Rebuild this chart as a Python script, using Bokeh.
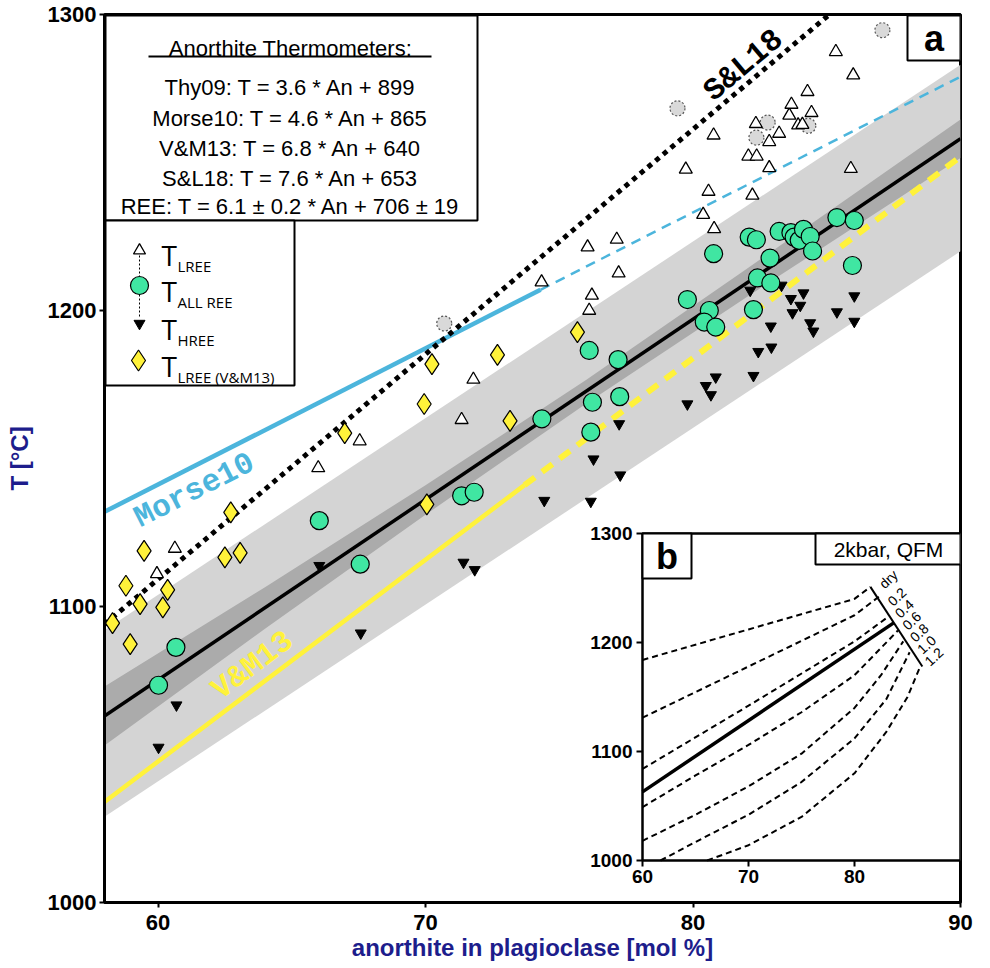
import math
from bokeh.plotting import figure
from bokeh.models import Range1d, FixedTicker
from bokeh.core.properties import value
from bokeh.embed import file_html
from bokeh.resources import INLINE

# ---------------- data ----------------
x_ticks = [60, 70, 80, 90]
y_ticks = [1000, 1100, 1200, 1300]

# T_LREE (open triangles)
lree_an = [59.96, 60.63, 65.99, 67.54, 71.35, 71.79, 74.34, 76.06, 77.15, 77.22, 76.22, 76.12,
           79.73, 80.58, 80.38, 80.79, 80.77, 82.22, 82.85, 82.07, 82.38, 82.35, 82.85, 83.22,
           83.60, 83.68, 84.28, 84.43, 83.93, 84.09, 85.34, 85.99, 85.90]
lree_t = [1111.0, 1119.6, 1146.8, 1155.9, 1163.1, 1176.7, 1209.6, 1221.4, 1224.0, 1212.6, 1205.1, 1200.0,
          1247.7, 1240.2, 1232.4, 1227.6, 1259.2, 1238.9, 1248.2, 1252.1, 1252.1, 1263.1, 1257.0, 1259.8,
          1265.9, 1269.6, 1273.9, 1266.8, 1262.6, 1262.8, 1287.4, 1279.5, 1247.9]
# excluded (grey dotted circles)
excl_an = [70.70, 79.42, 82.79, 82.37, 84.31, 87.08]
excl_t = [1195.6, 1268.3, 1263.5, 1258.4, 1262.4, 1294.7]
# T_ALL REE (green circles)
all_an = [60.02, 60.67, 66.03, 67.56, 71.35, 71.82, 74.35, 76.12, 77.20, 76.24, 77.26, 76.18,
          79.79, 80.61, 80.42, 80.85, 80.77, 82.10, 82.37, 83.22, 83.66, 83.78, 83.97, 84.13,
          84.38, 84.47, 85.38, 86.03, 85.96, 82.88, 82.41, 82.91, 82.26]
all_t = [1073.4, 1086.2, 1129.0, 1114.3, 1137.4, 1138.6, 1163.4, 1186.5, 1183.4, 1169.0, 1170.9, 1158.9,
         1203.7, 1200.0, 1196.1, 1194.4, 1219.2, 1224.8, 1223.9, 1226.7, 1226.3, 1224.8, 1223.7, 1227.4,
         1225.0, 1220.1, 1231.4, 1230.4, 1215.2, 1217.7, 1211.0, 1209.3, 1200.3]
# T_HREE (black inverted triangles)
hree_an = [60.02, 60.69, 66.03, 67.58, 71.42, 71.84, 74.44, 76.28, 77.24, 77.28, 76.18, 79.79,
           80.48, 80.67, 80.85, 82.26, 82.44, 82.93, 82.14, 83.31, 83.66, 84.13, 84.01, 83.72,
           84.38, 84.50, 82.91, 85.38, 86.03, 86.03]
hree_t = [1052.4, 1066.7, 1113.8, 1091.0, 1114.9, 1112.4, 1135.8, 1149.8, 1161.7, 1144.4, 1135.5, 1168.4,
          1174.6, 1171.5, 1177.5, 1178.0, 1186.1, 1187.6, 1206.8, 1208.5, 1204.0, 1205.9, 1201.7, 1199.2,
          1195.8, 1193.0, 1194.7, 1199.5, 1204.9, 1196.3]
# T_LREE (V&M13) (yellow diamonds)
vm_an = [58.30, 58.80, 58.96, 59.33, 59.48, 60.18, 60.36, 62.50, 62.72, 63.07, 66.98, 69.95,
         70.05, 70.24, 72.69, 73.16, 75.68]
vm_t = [1094.4, 1107.0, 1087.3, 1100.8, 1118.8, 1099.7, 1105.6, 1116.6, 1131.8, 1118.1, 1158.6, 1168.4,
        1134.5, 1181.9, 1185.0, 1162.7, 1192.7]

# REE fit and uncertainty envelopes
band_an = [58, 90]
light_lo = [1029, 1220]
light_hi = [1092, 1283]
dark_an = [58, 64, 70, 76, 82, 90]
dark_lo = [1053, 1092.5, 1131, 1168.5, 1204.5, 1251.5]
dark_hi = [1073, 1106.5, 1141, 1176.5, 1214, 1264.5]
ree_an = [58, 90]
ree_t = [1063, 1258]

# thermometer lines
morse_an_solid, morse_t_solid = [58, 74.3], [1132, 1207]
morse_an_dash, morse_t_dash = [74.3, 90], [1207, 1279]
vm13_an_solid, vm13_t_solid = [58, 73.7], [1034, 1141]
vm13_an_dash, vm13_t_dash = [73.7, 90], [1141, 1252]
sl18_an, sl18_t = [58, 85.1], [1094, 1300]

thermo_title = "Anorthite Thermometers:"
thermo_lines = ["Thy09: T = 3.6 * An + 899",
                "Morse10: T = 4.6 * An + 865",
                "V&M13: T = 6.8 * An + 640",
                "S&L18: T = 7.6 * An + 653",
                "REE: T = 6.1 \u00b1 0.2 * An + 706 \u00b1 19"]
legend_sub = ["LREE", "ALL REE", "HREE", "LREE (V&M13)"]

# inset (b): dashed curves for dry, 0.2 ... 1.2 wt% H2O
in_x_ticks = [60, 70, 80]
in_y_ticks = [1000, 1100, 1200, 1300]
in_curves_an = [
    [60, 70, 80, 81.5],
    [60, 70, 80, 82.3],
    [60, 70, 80, 83.1],
    [60, 65, 70, 75, 80, 84.1],
    [60, 65, 70, 75, 80, 82.5, 84.6],
    [61.7, 65, 70, 75, 80, 83, 85.2],
    [66.1, 70, 75, 80, 83, 85, 86.2],
]
in_curves_t = [
    [1184, 1212, 1240, 1251],
    [1131, 1178, 1225, 1242],
    [1084, 1142, 1201, 1223],
    [1049, 1078, 1106, 1136, 1170, 1211],
    [1018, 1042, 1068, 1098, 1140, 1170, 1201],
    [1000, 1017, 1042, 1072, 1112, 1148, 1191],
    [1000, 1014, 1040, 1080, 1118, 1150, 1178],
]
in_solid_an, in_solid_t = [60, 83.7], [1063, 1218]
in_tick_an, in_tick_t = [81.5, 86.4], [1251, 1178]
in_labels = ["dry", "0.2", "0.4", "0.6", "0.8", "1.0", "1.2"]
in_label_an = [83.2, 84.0, 84.7, 85.4, 86.1, 86.8, 87.5]
in_label_t = [1258, 1242, 1231, 1220, 1209, 1198, 1187]

# ---------------- layout ----------------
OX, OY = 3, 2                              # canvas origin on the photographed page
W, H = 974, 965
FL, FR, FT, FB = 107 - OX, 963 - OX, 16 - OY, 902   # frame in canvas px
X0, X1, Y0, Y1 = 58, 90, 1000, 1300

p = figure(width=W, height=H, x_range=Range1d(X0, X1), y_range=Range1d(Y0, Y1),
           output_backend="svg", toolbar_location=None,
           min_border_left=FL, min_border_right=W - FR, min_border_top=FT, min_border_bottom=H - FB)

def dx(px):  # reference page px -> data
    return X0 + (px - OX - FL) * (X1 - X0) / (FR - FL)

def dy(py):
    return Y1 - (py - OY - FT) * (Y1 - Y0) / (FB - FT)

pxA = (FR - FL) / (X1 - X0)
pxT = (FB - FT) / (Y1 - Y0)

NAVY = "#1d1d8c"
BLUE = "#4cb5dc"
YEL = "#fff23a"
GREEN = "#40e6a2"
SANS = "Liberation Sans"

p.grid.visible = False
p.outline_line_color = "black"
p.outline_line_width = 3
p.background_fill_color = "white"
p.border_fill_color = "white"

p.xaxis.ticker = FixedTicker(ticks=x_ticks)
p.yaxis.ticker = FixedTicker(ticks=y_ticks)
for ax in (p.xaxis, p.yaxis):
    ax.minor_tick_line_color = None
    ax.major_tick_in = 0
    ax.major_tick_out = 5
    ax.major_tick_line_width = 2
    ax.axis_line_width = 3
    ax.major_label_text_font = SANS
    ax.major_label_text_font_style = "bold"
    ax.major_label_text_font_size = "22px"
    ax.major_label_text_color = "black"
    ax.axis_label_text_font = SANS
    ax.axis_label_text_font_style = "bold"
    ax.axis_label_text_font_size = "24px"
    ax.axis_label_text_color = NAVY
p.xaxis.axis_label = "anorthite in plagioclase [mol %]"
p.yaxis.axis_label = "T [\u00b0C]"
p.xaxis.major_label_standoff = 7
p.xaxis.axis_label_standoff = 1
p.yaxis.major_label_standoff = 3
p.yaxis.axis_label_standoff = 12

# bands
p.varea(x=band_an, y1=light_lo, y2=light_hi, fill_color="#d4d4d4")
p.varea(x=dark_an, y1=dark_lo, y2=dark_hi, fill_color="#ababab")

# thermometer lines
p.line(vm13_an_solid, vm13_t_solid, line_color=YEL, line_width=4.5)
p.line(vm13_an_dash, vm13_t_dash, line_color=YEL, line_width=6, line_dash="13 9")
p.line(morse_an_solid, morse_t_solid, line_color=BLUE, line_width=4.5)
p.line(morse_an_dash, morse_t_dash, line_color=BLUE, line_width=2.5, line_dash="10 7")
p.line(ree_an, ree_t, line_color="black", line_width=3.5)
p.line(sl18_an, sl18_t, line_color="black", line_width=5, line_dash="5 5")

# markers
p.scatter(excl_an, excl_t, marker="circle", size=15, fill_color="#d9d9d9",
          line_color="#555555", line_width=1.2, line_dash="2 2")
p.scatter(lree_an, lree_t, marker="triangle", size=13, fill_color="white",
          line_color="black", line_width=1.3)
p.scatter(hree_an, hree_t, marker="inverted_triangle", size=11, fill_color="black",
          line_color="black")
p.scatter(all_an, all_t, marker="circle", size=18, fill_color=GREEN,
          line_color="black", line_width=1.2)
p.scatter(vm_an, vm_t, marker="diamond", size=21, fill_color=YEL,
          line_color="black", line_width=1.2)

# line labels
mono = value("Liberation Mono")
p.text(x=[dx(197)], y=[dy(492)], text=["Morse10"], angle=math.atan(4.6 * pxT / pxA),
       text_font=mono, text_font_style="bold", text_font_size=value("31px"),
       text_color=BLUE, text_align="center", text_baseline="middle")
p.text(x=[dx(255)], y=[dy(667)], text=["V&M13"], angle=math.atan(6.8 * pxT / pxA),
       text_font=mono, text_font_style="bold", text_font_size=value("31px"),
       text_color=YEL, text_align="center", text_baseline="middle")
p.text(x=[dx(746)], y=[dy(67)], text=["S&L18"], angle=math.atan(7.6 * pxT / pxA),
       text_font=mono, text_font_style="bold", text_font_size=value("31px"),
       text_color="black", text_align="center", text_baseline="middle")

def box(x0, y0, x1, y1, lw=2.0):
    p.quad(left=[dx(x0)], right=[dx(x1)], top=[dy(y0)], bottom=[dy(y1)],
           fill_color="white", line_color="black", line_width=lw)

# thermometer box
box(108, 17, 480, 222)
sans = value(SANS)
p.text(x=[dx(293)], y=[dy(50)], text=[thermo_title], text_font=sans,
       text_font_size=value("22px"), text_align="center", text_baseline="alphabetic")
p.line([dx(151), dx(434)], [dy(58), dy(58)], line_color="black", line_width=2)
p.text(x=[dx(293)] * 5, y=[dy(v) for v in (89, 120, 150, 180, 208)], text=thermo_lines,
       text_font=sans, text_font_size=value("22px"), text_align="center",
       text_baseline="alphabetic")

# legend box
box(108, 222, 297, 387)
lx = dx(142)
p.line([lx, lx], [dy(257), dy(278)], line_color="black", line_width=1, line_dash="2 2")
p.line([lx, lx], [dy(296), dy(320)], line_color="black", line_width=1, line_dash="2 2")
p.scatter([lx], [dy(252)], marker="triangle", size=12, fill_color="white", line_color="black", line_width=1.3)
p.scatter([lx], [dy(287)], marker="circle", size=18, fill_color=GREEN, line_color="black", line_width=1.2)
p.scatter([lx], [dy(325)], marker="inverted_triangle", size=11, fill_color="black", line_color="black")
p.scatter([dx(141)], [dy(362)], marker="diamond", size=21, fill_color=YEL, line_color="black", line_width=1.2)
leg = value("Open Sans")
p.text(x=[dx(164)] * 4, y=[dy(v) for v in (256, 292, 330, 367)], text=["T"] * 4,
       text_font=leg, text_font_size=value("28px"), text_baseline="alphabetic")
p.text(x=[dx(180)] * 4, y=[dy(v) for v in (267, 303, 341, 378)], text=legend_sub,
       text_font=leg, text_font_size=value("15px"), text_baseline="alphabetic")

# panel label a
box(910, 17, 963, 62)
p.text(x=[dx(936.5)], y=[dy(40)], text=["a"], text_font=value(SANS),
       text_font_style="bold", text_font_size=value("36px"), text_align="center",
       text_baseline="middle")

# ---------------- inset b (own scales) ----------------
IL, IR, IT, IB = 645 - OX, 963 - OX, 535 - OY, 862 - OY
ux = 30 / (IR - IL)
uy = 300 / (IB - IT)
p.extra_x_ranges = {"ix": Range1d(60 - (IL - FL) * ux, 90 + (FR - IR) * ux)}
p.extra_y_ranges = {"iy": Range1d(1000 - (FB - IB) * uy, 1300 + (IT - FT) * uy)}
R = dict(x_range_name="ix", y_range_name="iy")

p.quad(left=[60], right=[90], bottom=[1000], top=[1300], fill_color="white",
       line_color="black", line_width=2.5, **R)
for a_, t_ in zip(in_curves_an, in_curves_t):
    p.line(a_, t_, line_color="black", line_width=2, line_dash="6 4", **R)
p.line(in_solid_an, in_solid_t, line_color="black", line_width=3.5, **R)
p.line(in_tick_an, in_tick_t, line_color="black", line_width=2, **R)
p.text(x=in_label_an, y=in_label_t, text=in_labels, angle=0.75, text_font=sans,
       text_font_size=value("14px"), text_align="center", text_baseline="middle", **R)
# inset ticks & labels
p.segment(x0=in_x_ticks, y0=[1000] * 3, x1=in_x_ticks, y1=[1000 - 6 * uy] * 3,
          line_color="black", line_width=2, **R)
p.segment(x0=[60] * 4, y0=in_y_ticks, x1=[60 - 6 * ux] * 4, y1=in_y_ticks,
          line_color="black", line_width=2, **R)
p.text(x=in_x_ticks, y=[1000] * 3, text=[str(v) for v in in_x_ticks], y_offset=9,
       text_font=sans, text_font_style="bold", text_font_size=value("19px"),
       text_align="center", text_baseline="top", **R)
p.text(x=[60] * 4, y=in_y_ticks, text=[str(v) for v in in_y_ticks], x_offset=-10,
       text_font=sans, text_font_style="bold", text_font_size=value("19px"),
       text_align="right", text_baseline="middle", **R)
# b label and condition box
p.quad(left=[60], right=[60 + 49 * ux], top=[1300], bottom=[1300 - 45 * uy],
       fill_color="white", line_color="black", line_width=2, **R)
p.text(x=[60 + 24.5 * ux], y=[1300 - 22.5 * uy], text=["b"], text_font=sans,
       text_font_style="bold", text_font_size=value("36px"), text_align="center",
       text_baseline="middle", **R)
p.quad(left=[90 - 145 * ux], right=[90], top=[1300], bottom=[1300 - 31 * uy],
       fill_color="white", line_color="black", line_width=2, **R)
p.text(x=[90 - 72 * ux], y=[1300 - 16 * uy], text=["2kbar, QFM"], text_font=sans,
       text_font_size=value("21px"), text_align="center", text_baseline="middle", **R)

open("out.html", "w").write(file_html(p, INLINE))
